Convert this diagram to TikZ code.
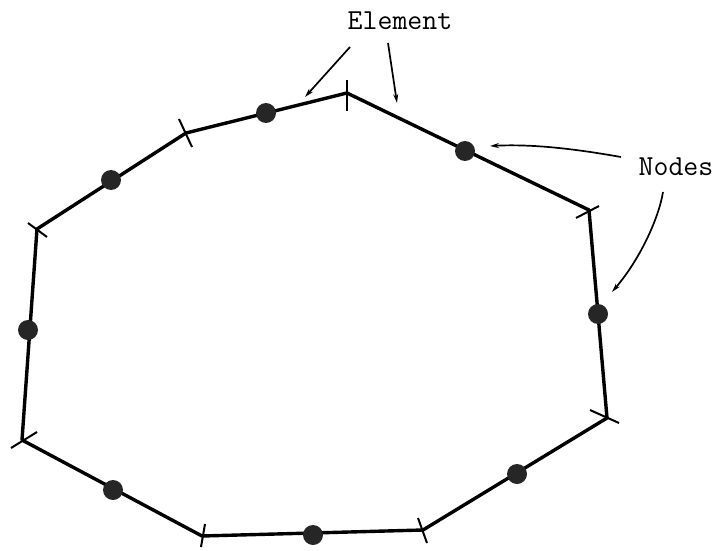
\documentclass[tikz,border=0pt]{standalone}
\usetikzlibrary{arrows.meta}
\tikzset{
  edge/.style={line width=3.4pt, line join=round, line cap=round},
  tick/.style={line width=2pt},
  dot/.style={circle, fill=black!85, inner sep=0pt, minimum size=20pt},
  lbl/.style={font=\ttfamily\fontsize{29}{32}\selectfont, inner sep=0pt},
  ptr/.style={line width=1.7pt, -{Stealth[length=9pt,width=5pt]}}
}
\begin{document}
\begin{tikzpicture}[x=1pt,y=-1pt]
\useasboundingbox (0,0) rectangle (723,551);
% vertices
\coordinate (v1) at (37,229);
\coordinate (v2) at (186,133);
\coordinate (v3) at (347,93);
\coordinate (v4) at (589,210);
\coordinate (v5) at (607,418);
\coordinate (v6) at (423,530);
\coordinate (v7) at (202,536);
\coordinate (v8) at (22,440);
\draw[edge] (v1) -- (v2) -- (v3) -- (v4) -- (v5) -- (v6) -- (v7) -- (v8) -- cycle;
% ticks
\draw[tick] ([shift={(-9,-6)}]v1) -- ([shift={(10,8)}]v1);
\draw[tick] ([shift={(-7,-14)}]v2) -- ([shift={(6,14)}]v2);
\draw[tick] ([shift={(0,-13)}]v3) -- ([shift={(0,18)}]v3);
\draw[tick] ([shift={(-13,8)}]v4) -- ([shift={(10,-4)}]v4);
\draw[tick] ([shift={(-17,-8)}]v5) -- ([shift={(12,5)}]v5);
\draw[tick] ([shift={(-5,-12)}]v6) -- ([shift={(4,13)}]v6);
\draw[tick] ([shift={(3,-12)}]v7) -- ([shift={(-1,11)}]v7);
\draw[tick] ([shift={(-11,8)}]v8) -- ([shift={(15,-8)}]v8);
% nodes (dots)
\node[dot] (n1) at (111,180) {};
\node[dot] (n2) at (266,113) {};
\node[dot] (n3) at (465,151) {};
\node[dot] (n4) at (598,314) {};
\node[dot] (n5) at (517,474) {};
\node[dot] (n6) at (313,535) {};
\node[dot] (n7) at (113,490) {};
\node[dot] (n8) at (28,330) {};
% labels
\node[lbl] (elem) at (400,21) {Element};
\node[lbl] (nodes) at (676,167) {Nodes};
% pointer ends
\coordinate (e1s) at (350,47);
\coordinate (e1t) at (305,97);
\coordinate (e2s) at (388,43);
\coordinate (e2t) at (397,103);
\coordinate (d1s) at (621,157);
\coordinate (d1t) at (490,146);
\coordinate (d2s) at (663,192);
\coordinate (d2t) at (612,292);
\draw[ptr] (e1s) -- (e1t);
\draw[ptr] (e2s) -- (e2t);
\draw[ptr] (d1s) .. controls (570,148) and (530,144) .. (d1t);
\draw[ptr] (d2s) .. controls (659,217) and (641,258) .. (d2t);
\end{tikzpicture}
\end{document}
